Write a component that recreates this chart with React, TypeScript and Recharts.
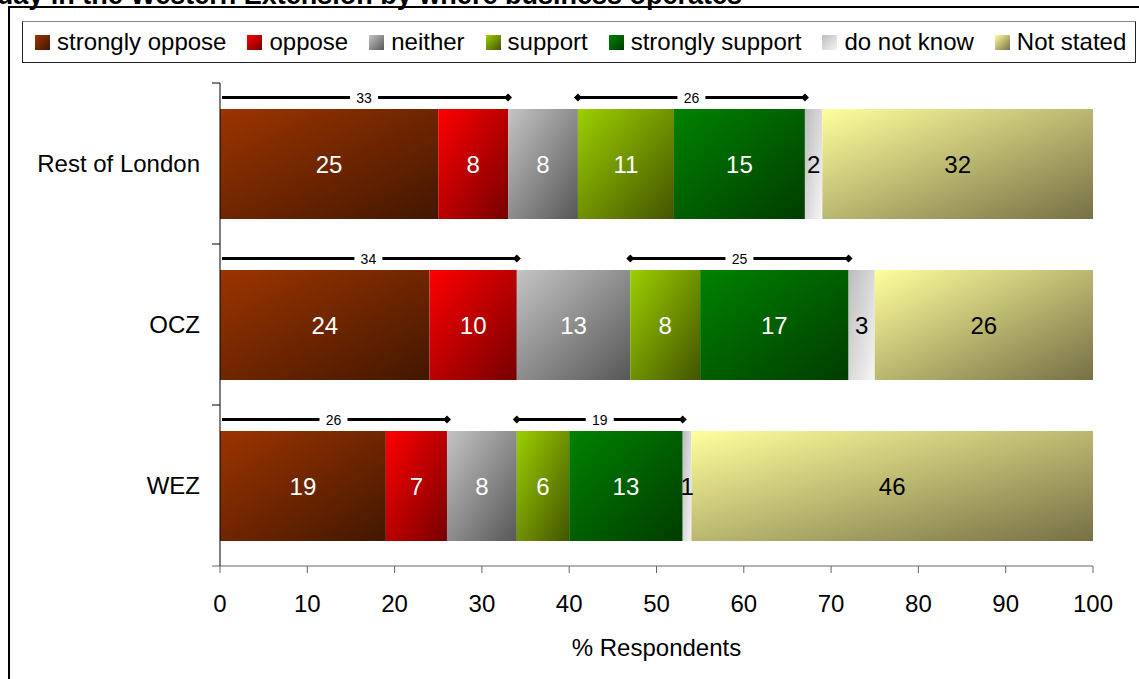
import React from 'react';
import { BarChart, Bar, XAxis, YAxis, LabelList, Legend, ReferenceLine } from 'recharts';

const regions = ['Rest of London', 'OCZ', 'WEZ'];
const stronglyOppose = [25, 24, 19];
const oppose = [8, 10, 7];
const neither = [8, 13, 8];
const support = [11, 8, 6];
const stronglySupport = [15, 17, 13];
const doNotKnow = [2, 3, 1];
const notStated = [32, 26, 46];
const percentTicks = [0, 10, 20, 30, 40, 50, 60, 70, 80, 90, 100];

const FONT = '"Liberation Sans", Arial, Helvetica, sans-serif';
const WIDTH = 1139;
const HEIGHT = 679;
const PLOT_LEFT = 220;
const PLOT_TOP = 83;
const PLOT_BOTTOM = 566;
const BAR_SIZE = 110;
const HALF_BAND = (PLOT_BOTTOM - PLOT_TOP) / regions.length / 2;

const series = [
  { key: 'stronglyOppose', name: 'strongly oppose', from: '#9c3400', to: '#421700', text: '#fff', values: stronglyOppose },
  { key: 'oppose', name: 'oppose', from: '#ff0000', to: '#760000', text: '#fff', values: oppose },
  { key: 'neither', name: 'neither', from: '#c4c4c4', to: '#575757', text: '#fff', values: neither },
  { key: 'support', name: 'support', from: '#9ccf00', to: '#435400', text: '#fff', values: support },
  { key: 'stronglySupport', name: 'strongly support', from: '#008200', to: '#003c00', text: '#fff', values: stronglySupport },
  { key: 'doNotKnow', name: 'do not know', from: '#bcbcbc', to: '#f6f6f6', text: '#000', values: doNotKnow },
  { key: 'notStated', name: 'Not stated', from: '#ffff9c', to: '#767045', text: '#000', values: notStated },
];

const rows = regions.map((region, i) => {
  const row: Record<string, string | number> = { region };
  series.forEach((s) => {
    row[s.key] = s.values[i];
  });
  return row;
});

// opposition total runs from 0, support total starts after "neither"
const brackets = regions.flatMap((region, i) => {
  const opp = stronglyOppose[i] + oppose[i];
  const supStart = opp + neither[i];
  const sup = support[i] + stronglySupport[i];
  return [
    { region, from: 0, to: opp, total: opp, startMark: false },
    { region, from: supStart, to: supStart + sup, total: sup, startMark: true },
  ];
});

function bracketShape(total: number, startMark: boolean) {
  return (props: any) => {
    const { x1, x2, y1 } = props;
    const y = y1 - BAR_SIZE / 2 - 11;
    const left = startMark ? x1 : x1 + 2;
    const mid = (x1 + x2) / 2;
    const diamond = (cx: number) => `${cx - 4},${y} ${cx},${y - 4} ${cx + 4},${y} ${cx},${y + 4}`;
    return (
      <g>
        <line x1={left} y1={y} x2={x2} y2={y} stroke="#000" strokeWidth={3} />
        {startMark && <polygon points={diamond(x1)} fill="#000" />}
        <polygon points={diamond(x2)} fill="#000" />
        <rect x={mid - 14} y={y - 11} width={28} height={22} fill="#fff" />
        <text x={mid} y={y} dy="0.36em" textAnchor="middle" fontSize={14} fill="#000">
          {total}
        </text>
      </g>
    );
  };
}

function RegionTick(props: any) {
  const { y, payload, index } = props;
  const top = y - HALF_BAND;
  const bottom = y + HALF_BAND;
  return (
    <g>
      <line x1={PLOT_LEFT - 8} y1={top} x2={PLOT_LEFT} y2={top} stroke="#000" />
      {index === regions.length - 1 && (
        <line x1={PLOT_LEFT - 8} y1={bottom} x2={PLOT_LEFT} y2={bottom} stroke="#666" />
      )}
      <text x={PLOT_LEFT - 20} y={y} dy="0.36em" textAnchor="end" fontSize={24} fill="#000">
        {payload.value}
      </text>
    </g>
  );
}

const renderLegend = () => (
  <div style={{ display: 'flex', alignItems: 'center', height: '100%', paddingLeft: 12 }}>
    {series.map((s) => (
      <div key={s.key} style={{ display: 'flex', alignItems: 'center', marginRight: 21 }}>
        <span
          style={{
            display: 'inline-block',
            width: 15,
            height: 15,
            marginRight: 7,
            background: `linear-gradient(135deg, ${s.from}, ${s.to})`,
          }}
        />
        <span style={{ fontSize: 24, lineHeight: '24px', color: '#000', whiteSpace: 'nowrap' }}>{s.name}</span>
      </div>
    ))}
  </div>
);

export default function App() {
  return (
    <div
      style={{
        position: 'absolute',
        left: 0,
        top: 0,
        width: WIDTH,
        height: HEIGHT,
        overflow: 'hidden',
        background: '#fff',
        fontFamily: FONT,
      }}
    >
      <svg width={WIDTH} height={30} style={{ position: 'absolute', left: 0, top: 0 }}>
        <text x={742} y={4} textAnchor="end" fontSize={27} fontWeight="bold" fill="#000">
          day in the Western Extension by where business operates
        </text>
      </svg>
      <div
        style={{
          position: 'absolute',
          left: 8,
          top: 6,
          width: 1200,
          height: 800,
          borderLeft: '2px solid #000',
          borderTop: '2px solid #000',
        }}
      />
      <div style={{ position: 'absolute', left: 0, top: 0 }}>
        <BarChart
          width={WIDTH}
          height={HEIGHT}
          data={rows}
          layout="vertical"
          margin={{ top: PLOT_TOP, right: 46, bottom: 0, left: 8 }}
        >
          <defs>
            {series.map((s) => (
              <linearGradient key={s.key} id={`grad-${s.key}`} x1="0" y1="0" x2="1" y2="1">
                <stop offset="0%" stopColor={s.from} />
                <stop offset="100%" stopColor={s.to} />
              </linearGradient>
            ))}
          </defs>
          <XAxis
            type="number"
            domain={[0, 100]}
            ticks={percentTicks}
            interval={0}
            allowDataOverflow
            height={113}
            tickSize={7}
            tickMargin={22}
            axisLine={{ stroke: '#666' }}
            tickLine={{ stroke: '#666' }}
            tick={{ fill: '#000', fontSize: 24 }}
            label={{ value: '% Respondents', position: 'insideBottom', offset: 23, fill: '#000', fontSize: 24 }}
          />
          <YAxis
            type="category"
            dataKey="region"
            width={212}
            interval={0}
            axisLine={{ stroke: '#000' }}
            tickLine={false}
            tick={(p: any) => <RegionTick {...p} />}
          />
          <Legend
            layout="horizontal"
            verticalAlign="middle"
            align="center"
            content={renderLegend}
            wrapperStyle={{
              top: 21,
              left: 22,
              width: 1114,
              height: 42,
              boxSizing: 'border-box',
              border: '1px solid #222',
              borderTopColor: '#888',
              background: '#fff',
            }}
          />
          {series.map((s) => (
            <Bar
              key={s.key}
              dataKey={s.key}
              name={s.name}
              stackId="resp"
              barSize={BAR_SIZE}
              fill={`url(#grad-${s.key})`}
              isAnimationActive={false}
            >
              <LabelList dataKey={s.key} position="center" fill={s.text} fontSize={24} />
            </Bar>
          ))}
          {brackets.map((b, i) => (
            <ReferenceLine
              key={i}
              segment={[
                { x: b.from, y: b.region },
                { x: b.to, y: b.region },
              ]}
              ifOverflow="visible"
              shape={bracketShape(b.total, b.startMark)}
            />
          ))}
        </BarChart>
      </div>
    </div>
  );
}
